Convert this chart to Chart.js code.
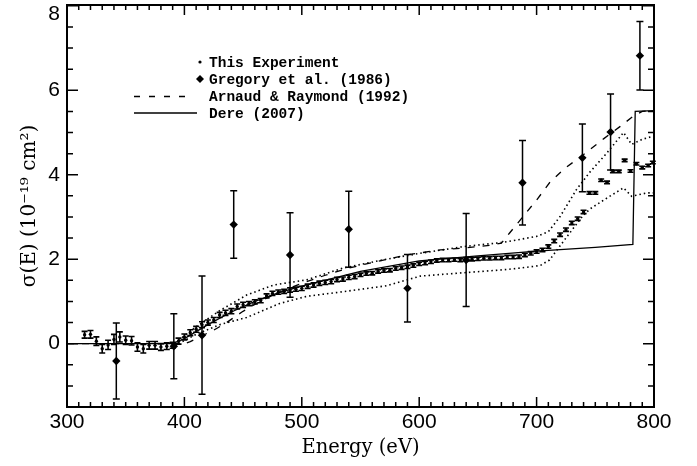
<!DOCTYPE html>
<html>
<head>
<meta charset="utf-8">
<script src="https://cdn.jsdelivr.net/npm/chart.js@4.4.1/dist/chart.umd.min.js"></script>
<style>
  html, body { margin: 0; padding: 0; background: #fff; }
</style>
</head>
<body>
<canvas id="myChart" width="697" height="466"></canvas>
<script>
// this experiment
const expEnergy = [315, 320, 325, 330, 335, 340, 345, 350, 355, 360, 365, 370, 375, 380, 385, 390, 395,
  400, 405, 410, 415, 420, 425, 430, 435, 440, 445, 450, 455, 460, 465, 470, 475, 480, 485, 490, 495,
  500, 505, 510, 515, 520, 525, 530, 535, 540, 545, 550, 555, 560, 565, 570, 575, 580, 585, 590, 595,
  600, 605, 610, 615, 620, 625, 630, 635, 640, 645, 650, 655, 660, 665, 670, 675, 680, 685, 690, 695,
  700, 705, 710, 715, 720, 725, 730, 735, 740, 745, 750, 755, 760, 765, 770, 775, 780, 785, 790, 795, 799];
const expSigma = [0.21, 0.22, 0.06, -0.12, -0.03, 0.10, 0.16, 0.08, 0.07, -0.08, -0.12, -0.04, -0.04, -0.08, -0.06, -0.04, 0.06,
  0.16, 0.26, 0.34, 0.45, 0.50, 0.56, 0.68, 0.73, 0.77, 0.88, 0.92, 0.95, 0.99, 1.02, 1.13, 1.19, 1.22, 1.24, 1.27, 1.29,
  1.31, 1.36, 1.39, 1.43, 1.45, 1.47, 1.52, 1.53, 1.57, 1.59, 1.63, 1.66, 1.67, 1.71, 1.73, 1.74, 1.78, 1.80, 1.82, 1.85,
  1.89, 1.91, 1.94, 1.97, 1.98, 1.98, 1.99, 1.98, 2.00, 2.00, 2.01, 2.02, 2.02, 2.03, 2.03, 2.05, 2.05, 2.06, 2.10, 2.14,
  2.18, 2.22, 2.30, 2.43, 2.58, 2.70, 2.86, 2.96, 3.12, 3.57, 3.57, 3.87, 3.82, 4.08, 4.08, 4.34, 4.09, 4.26, 4.17, 4.22, 4.29];
const expErr = [0.08, 0.09, 0.10, 0.10, 0.11, 0.12, 0.12, 0.10, 0.10, 0.10, 0.10, 0.09, 0.09, 0.08, 0.08, 0.07, 0.07,
  0.07, 0.07, 0.07, 0.07, 0.06, 0.06, 0.06, 0.06, 0.06, 0.06, 0.06, 0.05, 0.05, 0.05, 0.05, 0.05, 0.05, 0.05, 0.05, 0.05,
  0.05, 0.05, 0.05, 0.05, 0.05, 0.05, 0.05, 0.05, 0.05, 0.05, 0.04, 0.04, 0.04, 0.04, 0.04, 0.04, 0.04, 0.04, 0.04, 0.04,
  0.04, 0.04, 0.04, 0.04, 0.04, 0.04, 0.04, 0.04, 0.04, 0.04, 0.04, 0.04, 0.04, 0.04, 0.04, 0.04, 0.04, 0.04, 0.04, 0.04,
  0.04, 0.04, 0.04, 0.04, 0.04, 0.04, 0.04, 0.04, 0.04, 0.03, 0.03, 0.03, 0.03, 0.03, 0.03, 0.03, 0.03, 0.03, 0.03, 0.03, 0.03];

// Gregory et al. (1986)
const gregEnergy = [342, 391, 415, 442, 490, 540, 590, 640, 688, 739, 763, 788];
const gregSigma = [-0.41, -0.06, 0.20, 2.82, 2.10, 2.71, 1.31, 1.98, 3.81, 4.40, 5.01, 6.82];
const gregErr = [0.90, 0.77, 1.40, 0.80, 1.00, 0.90, 0.80, 1.10, 1.00, 0.80, 0.90, 0.81];

// Arnaud & Raymond (1992)
const arEnergy = [300, 400, 405, 416, 425, 436, 449, 460, 470, 485, 500, 520, 540, 560, 589, 618, 640, 660, 670, 677, 692, 700, 711, 723, 740, 757, 771, 783, 790, 800];
const arSigma = [0, 0, 0.05, 0.20, 0.32, 0.50, 0.75, 0.93, 1.08, 1.27, 1.43, 1.62, 1.79, 1.92, 2.10, 2.22, 2.27, 2.33, 2.38, 2.62, 3.13, 3.40, 3.81, 4.13, 4.48, 4.85, 5.14, 5.40, 5.50, 5.52];

// Dere (2007)
const dereEnergy = [300, 390, 400, 420, 440, 460, 480, 500, 550, 600, 650, 700, 750, 782, 784, 800];
const dereSigma = [0, 0, 0.12, 0.45, 0.75, 1.00, 1.20, 1.36, 1.71, 1.96, 2.08, 2.19, 2.28, 2.35, 5.50, 5.52];

// dotted bounds on this experiment
const upperEnergy = [395, 410, 430, 453, 476, 504, 535, 572, 601, 638, 672, 700, 710, 720, 734, 745, 760, 774, 781, 790, 800];
const upperSigma = [0.08, 0.40, 0.78, 1.15, 1.39, 1.51, 1.79, 2.00, 2.14, 2.30, 2.40, 2.54, 2.65, 3.01, 3.65, 4.05, 4.52, 5.00, 4.72, 4.84, 4.92];
const lowerEnergy = [395, 410, 430, 453, 481, 504, 535, 572, 601, 638, 672, 686, 703, 711, 726, 740, 746, 760, 774, 781, 794, 800];
const lowerSigma = [0.0, 0.22, 0.45, 0.62, 0.95, 1.12, 1.23, 1.37, 1.60, 1.68, 1.75, 1.79, 1.85, 1.98, 2.54, 3.05, 3.20, 3.45, 3.69, 3.49, 3.57, 3.57];

const xTickLabels = [300, 400, 500, 600, 700, 800];
const yTickLabels = [0, 2, 4, 6, 8];
const legendLabels = ["This Experiment", "Gregory et al. (1986)", "Arnaud & Raymond (1992)", "Dere (2007)"];

const pts = (xs, ys) => xs.map((x, i) => ({ x: x, y: ys[i] }));

// vertical error bars with caps
const errorBars = {
  id: "errorBars",
  afterDatasetsDraw(chart) {
    const { ctx, scales: { x, y } } = chart;
    ctx.save();
    ctx.strokeStyle = "#000";
    chart.data.datasets.forEach((ds) => {
      if (!ds.errors) return;
      ctx.lineWidth = ds.errWidth;
      ds.data.forEach((p, i) => {
        const px = x.getPixelForValue(p.x);
        const top = y.getPixelForValue(p.y + ds.errors[i]);
        const bot = y.getPixelForValue(p.y - ds.errors[i]);
        ctx.beginPath();
        ctx.moveTo(px, top); ctx.lineTo(px, bot);
        ctx.moveTo(px - ds.capHalf, top); ctx.lineTo(px + ds.capHalf, top);
        ctx.moveTo(px - ds.capHalf, bot); ctx.lineTo(px + ds.capHalf, bot);
        ctx.stroke();
      });
    });
    ctx.restore();
  }
};

// box frame with inward ticks on all four sides
const frameTicks = {
  id: "frameTicks",
  afterDraw(chart) {
    const { ctx, chartArea: a, scales: { x, y } } = chart;
    ctx.save();
    ctx.strokeStyle = "#000";
    ctx.lineWidth = 1.5;
    ctx.beginPath();
    for (let e = 300; e <= 800; e += 10) {
      const px = x.getPixelForValue(e);
      const len = e % 100 === 0 ? 10 : 5;
      ctx.moveTo(px, a.bottom); ctx.lineTo(px, a.bottom - len);
      ctx.moveTo(px, a.top); ctx.lineTo(px, a.top + len);
    }
    for (let v = -1.5; v <= 8; v += 0.5) {
      const py = y.getPixelForValue(v);
      const len = v % 2 === 0 ? 11 : 6;
      ctx.moveTo(a.left, py); ctx.lineTo(a.left + len, py);
      ctx.moveTo(a.right, py); ctx.lineTo(a.right - len, py);
    }
    ctx.stroke();
    ctx.lineWidth = 2;
    ctx.strokeRect(a.left, a.top, a.right - a.left, a.bottom - a.top);
    ctx.restore();
  }
};

// legend block in the upper left of the plot
const legendBlock = {
  id: "legendBlock",
  afterDraw(chart) {
    const ctx = chart.ctx;
    ctx.save();
    ctx.fillStyle = "#000";
    ctx.strokeStyle = "#000";
    ctx.font = "bold 14.5px 'Liberation Mono'";
    ctx.textBaseline = "middle";
    const rows = [62, 79, 96.5, 113];
    // dot
    ctx.beginPath(); ctx.arc(200, rows[0], 1.6, 0, Math.PI * 2); ctx.fill();
    // diamond
    ctx.beginPath();
    ctx.moveTo(200, rows[1] - 4); ctx.lineTo(204, rows[1]); ctx.lineTo(200, rows[1] + 4); ctx.lineTo(196, rows[1]);
    ctx.closePath(); ctx.fill();
    // dashed
    ctx.lineWidth = 1.3;
    ctx.setLineDash([6, 9]);
    ctx.beginPath(); ctx.moveTo(134, rows[2]); ctx.lineTo(192, rows[2]); ctx.stroke();
    ctx.setLineDash([]);
    ctx.beginPath(); ctx.moveTo(134, rows[3]); ctx.lineTo(197, rows[3]); ctx.stroke();
    legendLabels.forEach((t, i) => ctx.fillText(t, 209, rows[i] + 1));
    ctx.restore();
  }
};

const context = document.getElementById("myChart").getContext("2d");

new Chart(context, {
  type: "scatter",
  data: {
    datasets: [
      {
        label: legendLabels[0],
        data: pts(expEnergy, expSigma),
        errors: expErr, capHalf: 3, errWidth: 1.6,
        showLine: false,
        pointRadius: 1.7,
        pointBackgroundColor: "#000",
        pointBorderWidth: 0
      },
      {
        label: legendLabels[1],
        data: pts(gregEnergy, gregSigma),
        errors: gregErr, capHalf: 3.5, errWidth: 1.5,
        showLine: false,
        pointStyle: "rectRot",
        pointRadius: 4.2,
        pointBackgroundColor: "#000",
        pointBorderWidth: 0
      },
      {
        label: legendLabels[2],
        data: pts(arEnergy, arSigma),
        showLine: true,
        borderColor: "#000",
        borderWidth: 1.3,
        borderDash: [7, 8],
        pointRadius: 0
      },
      {
        label: legendLabels[3],
        data: pts(dereEnergy, dereSigma),
        showLine: true,
        borderColor: "#000",
        borderWidth: 1.3,
        pointRadius: 0
      },
      {
        label: "upper",
        data: pts(upperEnergy, upperSigma),
        showLine: true,
        borderColor: "#000",
        borderWidth: 1.6,
        borderDash: [1.5, 3],
        pointRadius: 0
      },
      {
        label: "lower",
        data: pts(lowerEnergy, lowerSigma),
        showLine: true,
        borderColor: "#000",
        borderWidth: 1.6,
        borderDash: [1.5, 3],
        pointRadius: 0
      }
    ]
  },
  options: {
    responsive: false,
    animation: false,
    devicePixelRatio: 1,
    layout: { padding: { top: 5, right: 43, left: 0, bottom: 0 } },
    plugins: { legend: { display: false }, tooltip: { enabled: false } },
    scales: {
      x: {
        type: "linear",
        min: 300,
        max: 800,
        afterBuildTicks: (s) => { s.ticks = xTickLabels.map((v) => ({ value: v })); },
        afterFit: (s) => { s.height = 59; s.paddingLeft = 0; s.paddingRight = 0; },
        grid: { display: false, drawTicks: false },
        border: { display: false },
        ticks: {
          color: "#000",
          padding: 3,
          maxRotation: 0,
          font: { family: "'Liberation Sans'", size: 21 }
        },
        title: {
          display: true,
          text: "Energy (eV)",
          color: "#000",
          font: { family: "'DejaVu Serif'", size: 19.5 },
          padding: { top: 0, bottom: 6 }
        }
      },
      y: {
        type: "linear",
        min: -1.5,
        max: 8.02,
        afterBuildTicks: (s) => { s.ticks = yTickLabels.map((v) => ({ value: v })); },
        afterFit: (s) => { s.width = 67; s.paddingTop = 0; s.paddingBottom = 0; },
        grid: { display: false, drawTicks: false },
        border: { display: false },
        ticks: {
          color: "#000",
          padding: 7,
          // top label sits a little lower so it stays inside the page
          callback: (v) => (v === 8 ? ["", "8"] : String(v)),
          font: { family: "'Liberation Sans'", size: 21, lineHeight: 0.8 }
        },
        title: {
          display: true,
          text: "σ(E) (10⁻¹⁹ cm²)",
          color: "#000",
          font: { family: "'DejaVu Serif'", size: 20 },
          padding: { top: 18, bottom: 0 }
        }
      }
    }
  },
  plugins: [errorBars, frameTicks, legendBlock]
});
</script>
</body>
</html>
